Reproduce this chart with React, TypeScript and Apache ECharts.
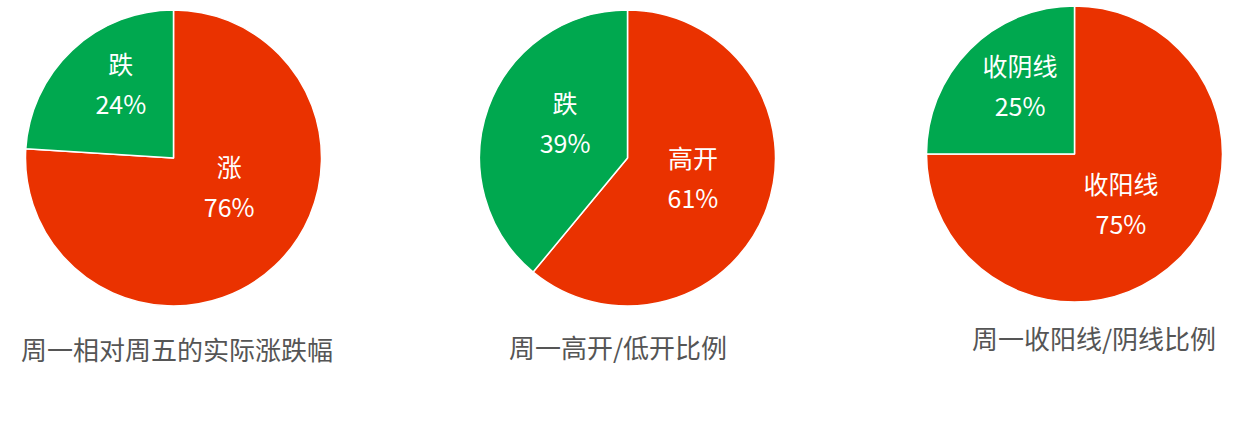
import React, { useEffect, useRef } from 'react';
import * as echarts from 'echarts';

// 三张饼图的数据
const titles = ['周一相对周五的实际涨跌幅', '周一高开/低开比例', '周一收阳线/阴线比例'];
const upNames = ['涨', '高开', '收阳线'];
const downNames = ['跌', '跌', '收阴线'];
const upValues = [76, 61, 75];
const downValues = [24, 39, 25];

const RED = '#ea3200';
const GREEN = '#00a84f';
const FONT = '"Noto Sans CJK SC", "Noto Sans", sans-serif';

// 每个饼图的圆心和标题位置
const centers = [
  [173.5, 158],
  [627.5, 158],
  [1074.5, 154],
];
const titlePos = [
  [177, 348],
  [618, 346],
  [1094, 337],
];
// 标签微调 [涨, 跌]，原图的标签和 echarts 默认位置有点偏差
const labelShift = [
  [[3, -28], [0, -19]],
  [[-7, -7], [10, -10]],
  [[-8, -5], [0, -15]],
];

const App = () => {
  const chartRef = useRef(null);

  useEffect(() => {
    if (!chartRef.current) return;
    const chart = echarts.init(chartRef.current, null, { renderer: 'svg' });

    const options = {
      animation: false,
      backgroundColor: '#fff',
      graphic: titles.map((t, i) => ({
        type: 'text',
        x: titlePos[i][0],
        y: titlePos[i][1],
        style: {
          text: t,
          fill: '#555',
          font: `26px ${FONT}`,
          align: 'center',
          verticalAlign: 'middle',
        },
      })),
      series: titles.map((_, i) => ({
        type: 'pie',
        center: centers[i],
        radius: 148,
        startAngle: 90,
        clockwise: true,
        percentPrecision: 0,
        itemStyle: { borderColor: '#fff', borderWidth: 1.5 },
        label: {
          show: true,
          position: 'inside',
          formatter: '{b}\n{d}%',
          color: '#fff',
          fontSize: 25,
          lineHeight: 40,
          fontFamily: FONT,
        },
        labelLayout: (p) => ({
          dx: labelShift[i][p.dataIndex][0],
          dy: labelShift[i][p.dataIndex][1],
        }),
        labelLine: { show: false },
        emphasis: { disabled: true },
        data: [
          { name: upNames[i], value: upValues[i], itemStyle: { color: RED } },
          { name: downNames[i], value: downValues[i], itemStyle: { color: GREEN } },
        ],
      })),
    };

    chart.setOption(options);

    const handleResize = () => chart.resize();
    window.addEventListener('resize', handleResize);

    return () => {
      window.removeEventListener('resize', handleResize);
      chart.dispose();
    };
  }, []);

  return (
    <div
      ref={chartRef}
      style={{ position: 'fixed', left: 0, top: 0, width: 1249, height: 424 }}
    />
  );
};

export default App;
